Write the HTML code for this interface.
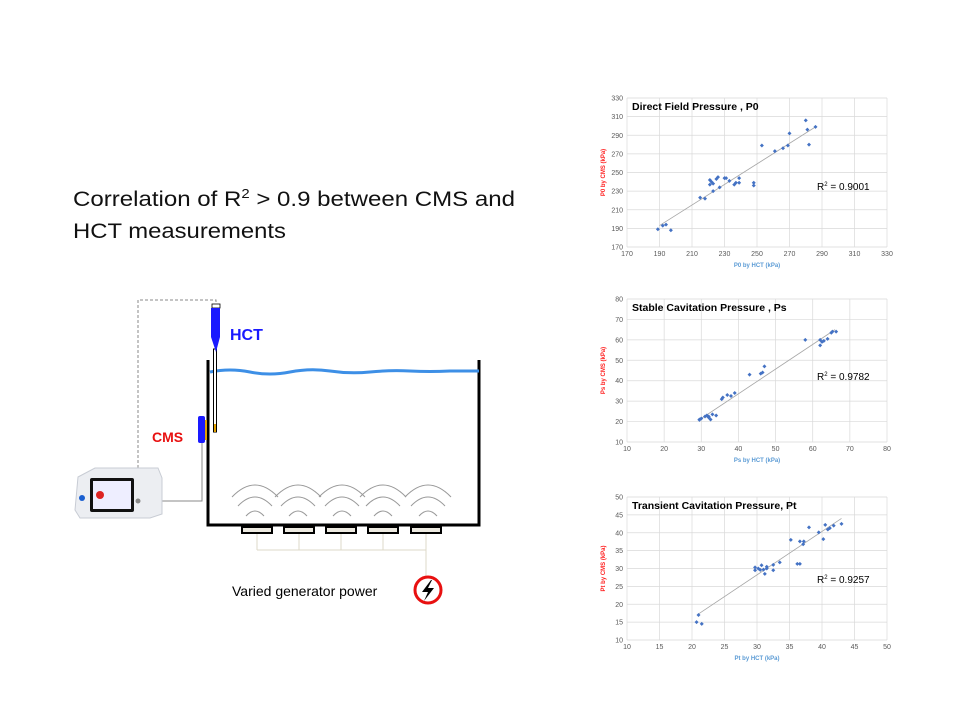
<!DOCTYPE html>
<html><head><meta charset="utf-8"><style>
html,body{margin:0;padding:0;background:#fff;}
svg{display:block;font-family:"Liberation Sans",sans-serif;}
</style></head><body>
<svg id="s" width="960" height="720" viewBox="0 0 960 720" xmlns="http://www.w3.org/2000/svg">
<rect width="960" height="720" fill="#fff"/>
<text x="73" y="206" font-size="21" fill="#111" textLength="442" lengthAdjust="spacingAndGlyphs">Correlation of R<tspan font-size="13" dy="-8">2</tspan><tspan dy="8"> &gt; 0.9 between CMS and</tspan></text>
<text x="73" y="238" font-size="21" fill="#111" textLength="213" lengthAdjust="spacingAndGlyphs">HCT measurements</text>

<!-- diagram -->
<path d="M216 307 V300 H138 V497" fill="none" stroke="#888" stroke-width="1" stroke-dasharray="3,2"/>
<path d="M208 360 V525 H479 V360" fill="none" stroke="#000" stroke-width="3"/>
<path d="M210 372 Q230 368 250 372 T290 372 T330 371 T370 372 T410 371 T450 371 L479 371" fill="none" stroke="#3d8fe6" stroke-width="3"/>
<rect x="213.5" y="349" width="3" height="83" fill="#fff" stroke="#000" stroke-width="1"/>
<rect x="214" y="424" width="2" height="8" fill="#e0a000"/>
<rect x="212" y="304" width="8" height="4" fill="#fff" stroke="#000" stroke-width="0.8"/>
<path d="M211 308 H220 V337 L216 352 L211 337 Z" fill="#1a1aff"/>
<text x="230" y="340" font-size="16" font-weight="bold" fill="#1a1aff">HCT</text>
<text x="152" y="442" font-size="14" font-weight="bold" fill="#e81010">CMS</text>
<rect x="198" y="416" width="7" height="27" rx="2" fill="#1a1aff"/>
<rect x="205" y="420" width="2" height="20" fill="#e0a000"/>
<path d="M138 501 H202 V443" fill="none" stroke="#888" stroke-width="1"/>
<!-- device -->
<path d="M78 477 L95 468 L158 468 L162 478 L162 514 L150 518 L80 518 L75 510 Z" fill="#eceef2" stroke="#c8ccd4" stroke-width="1"/>
<rect x="90" y="478" width="44" height="34" rx="2" fill="#111"/>
<rect x="93" y="481" width="38" height="28" fill="#eef"/>
<circle cx="100" cy="495" r="4" fill="#d22"/>
<circle cx="82" cy="498" r="3" fill="#1a5fd0"/>
<circle cx="138" cy="501" r="2.5" fill="#888"/>
<!-- arcs -->
<g fill="none" stroke="#999" stroke-width="1" id="arcs"></g>
<!-- transducers -->
<g id="tr" fill="#ece9e0" stroke="#000" stroke-width="2"></g>
<g id="wires" fill="none" stroke="#ddd8c8" stroke-width="1"></g>
<circle cx="428" cy="590" r="13" fill="#fff" stroke="#e81010" stroke-width="3"/>
<path d="M431 580 L422 592 L428 592 L424 601 L434 588 L428 588 L432 580 Z" fill="#000"/>
<text x="232" y="596" font-size="14" fill="#000">Varied generator power</text>
<g id="charts"></g>
</svg>
<script>
var NS="http://www.w3.org/2000/svg";
function el(p,t,a,txt){var e=document.createElementNS(NS,t);for(var k in a)e.setAttribute(k,a[k]);if(txt!=null)e.textContent=txt;p.appendChild(e);return e;}
var arcs=document.getElementById('arcs');
[255,298,342,383,428].forEach(function(c){
 [[23,485],[17,497],[9,511]].forEach(function(r){
  var y0=r[1]+(r[0]>20?12:(r[0]>10?9:5));
  el(arcs,'path',{d:'M'+(c-r[0])+' '+y0+' Q'+c+' '+(2*r[1]-y0)+' '+(c+r[0])+' '+y0});
 });
});
var tr=document.getElementById('tr'),w=document.getElementById('wires');
[242,284,326,368,411].forEach(function(x){el(tr,'rect',{x:x,y:527,width:30,height:6});el(w,'path',{d:'M'+(x+15)+' 534 V550'});});
el(w,'path',{d:'M257 550 H426 M426 550 V577'});
var g=document.getElementById('charts');
function chart(o){
 var x0=627,x1=887,y0=o.top,y1=o.bot;
 var n1=(o.xmax-o.xmin)/o.xs,n2=(o.ymax-o.ymin)/o.ys;
 function X(v){return x0+(v-o.xmin)/(o.xmax-o.xmin)*(x1-x0);}
 function Y(v){return y1-(v-o.ymin)/(o.ymax-o.ymin)*(y1-y0);}
 for(var i=0;i<=n1;i++){var v=o.xmin+i*o.xs,x=X(v);el(g,'line',{x1:x,x2:x,y1:y0,y2:y1,stroke:'#d9d9d9','stroke-width':0.7});el(g,'text',{x:x,y:y1+9,'font-size':7,fill:'#595959','text-anchor':'middle'},v);}
 for(var j=0;j<=n2;j++){var v2=o.ymin+j*o.ys,y=Y(v2);el(g,'line',{x1:x0,x2:x1,y1:y,y2:y,stroke:'#d9d9d9','stroke-width':0.7});el(g,'text',{x:x0-4,y:y+2.5,'font-size':7,fill:'#595959','text-anchor':'end'},v2);}
 el(g,'line',{x1:X(o.t[0]),y1:Y(o.t[1]),x2:X(o.t[2]),y2:Y(o.t[3]),stroke:'#a6a6a6','stroke-width':0.8});
 o.p.forEach(function(p){var cx=X(p[0]),cy=Y(p[1]);el(g,'path',{d:'M'+cx+' '+(cy-2)+' L'+(cx+2)+' '+cy+' L'+cx+' '+(cy+2)+' L'+(cx-2)+' '+cy+'Z',fill:'#4472c4'});});
 el(g,'text',{x:632,y:y0+12,'font-size':10.5,'font-weight':'bold',fill:'#000'},o.title);
 var r=el(g,'text',{x:817,y:o.ry,'font-size':10,fill:'#000'},'R');
 el(r,'tspan',{'font-size':6,dy:-4},'2');el(r,'tspan',{dy:4},' = '+o.r2);
 el(g,'text',{x:(x0+x1)/2,y:y1+20,'font-size':6,'font-weight':'bold',fill:'#5b9bd5','text-anchor':'middle'},o.xl);
 el(g,'text',{x:0,y:0,'font-size':6,'font-weight':'bold',fill:'#ff2020','text-anchor':'middle',transform:'translate(605,'+((y0+y1)/2)+') rotate(-90)'},o.yl);
}
chart({top:98,bot:247,xmin:170,xmax:330,xs:20,ymin:170,ymax:330,ys:20,title:'Direct Field Pressure , P0',r2:'0.9001',ry:190,xl:'P0 by HCT (kPa)',yl:'P0 by CMS (kPa)',t:[190,193,286,299],
p:[[189,189],[192,193],[194,194],[197,188],[215,223],[218,222],[221,237],[221,242],[222,240],[223,238],[223,230],[225,243],[226,245],[227,234],[230,244],[231,244],[233,241],[236,237],[237,239],[239,239],[239,244],[248,239],[248,236],[253,279],[261,273],[266,276],[269,279],[270,292],[280,306],[281,296],[282,280],[286,299]]});
chart({top:299,bot:442,xmin:10,xmax:80,xs:10,ymin:10,ymax:80,ys:10,title:'Stable Cavitation Pressure , Ps',r2:'0.9782',ry:380,xl:'Ps by HCT (kPa)',yl:'Ps by CMS (kPa)',t:[30,21.5,66,65],
p:[[29.5,21],[29.5,20.8],[30,21.5],[31,22.5],[31.5,23],[32,22],[32,22.5],[32.5,21],[33,23.5],[34,23],[35.5,31],[35.8,31.8],[37,33],[38,32.5],[39,34],[43,43],[46,43.5],[46.5,44],[47,47],[58,60],[62,60],[62,57.3],[62.5,59],[63,59.5],[64,60.5],[65,63.5],[65.3,64],[66.3,64]]});
chart({top:497,bot:640,xmin:10,xmax:50,xs:5,ymin:10,ymax:50,ys:5,title:'Transient Cavitation Pressure, Pt',r2:'0.9257',ry:583,xl:'Pt by HCT (kPa)',yl:'Pt by CMS (kPa)',t:[21,17.3,43,44],
p:[[20.7,15],[21,17],[21.5,14.5],[29.7,29.5],[29.7,30.3],[30.2,30],[30.5,29.6],[30.7,30.9],[31,29.7],[31.2,28.5],[31.5,30.5],[31.5,30],[32.5,31],[32.5,29.5],[33.5,31.7],[35.2,38],[36.2,31.3],[36.6,31.3],[36.6,37.6],[37.1,36.8],[37.2,37.6],[38,41.5],[39.5,40.1],[40.2,38.2],[40.5,42.2],[40.9,40.9],[41.2,41.3],[41.8,42],[43,42.5]]});
</script>
</body></html>
